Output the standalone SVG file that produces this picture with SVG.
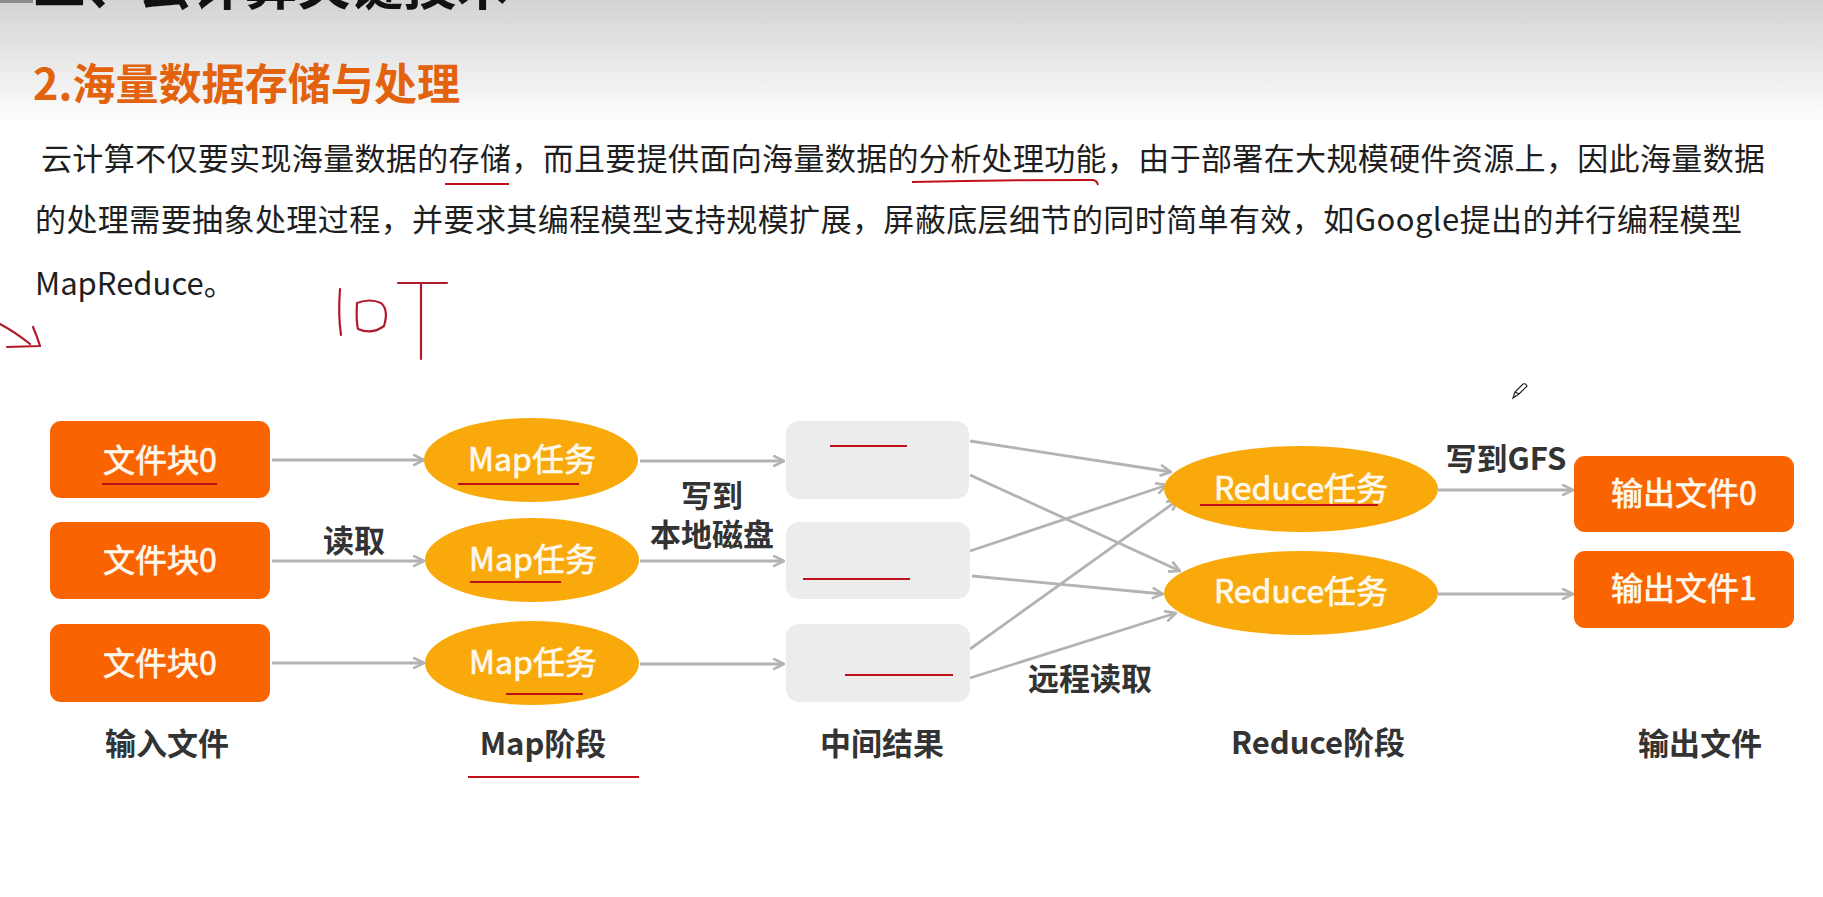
<svg xmlns="http://www.w3.org/2000/svg" width="1823" height="897" viewBox="0 0 1823 897">
<defs>
<linearGradient id="bg" x1="0" y1="0" x2="0" y2="1">
<stop offset="0" stop-color="#d3d3d3"/>
<stop offset="1" stop-color="#ffffff"/>
</linearGradient>
<marker id="arr" viewBox="0 0 12 12" refX="11" refY="6" markerWidth="13" markerHeight="13" markerUnits="userSpaceOnUse" orient="auto">
<path d="M1,1 L11,6 L1,11" fill="none" stroke="#b3b3b3" stroke-width="2.4"/>
</marker>
<style>
.cjk{font-family:"Noto Sans CJK SC","Liberation Sans",sans-serif}
.para{font-size:31px;fill:#1e1e1e}
.lbl{font-size:31px;fill:#333333;font-weight:600;text-anchor:middle}
.ntxt{font-size:32px;fill:#fff8ee;text-anchor:middle;stroke:#fff8ee;stroke-width:0.7}
.inbox{fill:#fa6400}
.ell{fill:#f9a90a}
.gbox{fill:#ececec}
.conn{stroke:#b3b3b3;stroke-width:2.8;fill:none;marker-end:url(#arr)}
.ul{stroke:#c0101a;stroke-width:2;fill:none}
.hand{stroke:#b01c2c;stroke-width:2.2;fill:none;stroke-linecap:round;stroke-linejoin:round}
</style>
</defs>
<rect x="0" y="0" width="1823" height="897" fill="#ffffff"/>
<rect x="0" y="0" width="1823" height="125" fill="url(#bg)"/>
<rect x="0" y="0" width="33" height="3" fill="#8a8a8a"/>
<text class="cjk" x="33" y="5" font-size="53" font-weight="bold" fill="#111111" textLength="476" lengthAdjust="spacingAndGlyphs">二、云计算关键技术</text>
<text class="cjk" x="33" y="100" font-size="43" font-weight="bold" fill="#e2620e" textLength="427" lengthAdjust="spacingAndGlyphs">2.海量数据存储与处理</text>
<text class="cjk para" x="41" y="170" textLength="1724" lengthAdjust="spacing">云计算不仅要实现海量数据的存储，而且要提供面向海量数据的分析处理功能，由于部署在大规模硬件资源上，因此海量数据</text>
<text class="cjk para" x="35" y="231" textLength="1707" lengthAdjust="spacing">的处理需要抽象处理过程，并要求其编程模型支持规模扩展，屏蔽底层细节的同时简单有效，如Google提出的并行编程模型</text>
<text class="cjk para" x="35" y="295">MapReduce。</text>
<g id="handwriting">
<path class="ul" d="M445,184 L509,184"/>
<path class="ul" d="M912,182 Q1000,180 1092,180 Q1097,180 1098,185"/>
<path class="hand" d="M340,289 Q338,315 341,335"/>
<path class="hand" d="M357,303 Q356,322 358,329 Q372,335 384,326 Q389,310 381,303 Q370,298 357,303"/>
<path class="hand" d="M398,283 L447,283 M421,283 L421,359"/>
<path class="hand" d="M0,324 Q15,332 30,344 M33,327 Q37,336 40,346 L7,347"/>
<path d="M1513,398 L1515,392 L1523,384 Q1526,383 1527,386 L1519,394 Z M1515,392 L1519,394" fill="none" stroke="#222" stroke-width="1.2"/>
</g>
<g id="connectors">
<path class="conn" d="M272,460 L424,460"/>
<path class="conn" d="M272,561 L424,561"/>
<path class="conn" d="M272,663 L424,663"/>
<path class="conn" d="M640,461 L784,461"/>
<path class="conn" d="M640,561 L784,561"/>
<path class="conn" d="M640,664 L784,664"/>
<path class="conn" d="M970,441 L1171,472"/>
<path class="conn" d="M970,475 L1180,571"/>
<path class="conn" d="M970,551 L1167,485"/>
<path class="conn" d="M972,576 L1163,594"/>
<path class="conn" d="M970,649 L1178,500"/>
<path class="conn" d="M970,678 L1176,613"/>
<path class="conn" d="M1438,490 L1573,490"/>
<path class="conn" d="M1438,594 L1573,594"/>
</g>
<g id="edge-labels">
<text class="cjk lbl" x="354" y="552">读取</text>
<text class="cjk lbl" x="712" y="507">写到</text>
<text class="cjk lbl" x="712" y="546">本地磁盘</text>
<text class="cjk lbl" x="1090" y="690">远程读取</text>
<text class="cjk lbl" x="1506" y="470">写到GFS</text>
</g>
<g id="input0"><rect class="inbox" x="50" y="421" width="220" height="77" rx="11"/><text class="cjk ntxt" x="160" y="472">文件块0</text><path class="ul" d="M102,484 L217,484"/></g>
<g id="input1"><rect class="inbox" x="50" y="522" width="220" height="77" rx="11"/><text class="cjk ntxt" x="160" y="572">文件块0</text></g>
<g id="input2"><rect class="inbox" x="50" y="624" width="220" height="78" rx="11"/><text class="cjk ntxt" x="160" y="675">文件块0</text></g>
<g id="map0"><ellipse class="ell" cx="531" cy="460" rx="107" ry="42"/><text class="cjk ntxt" x="532" y="471">Map任务</text><path class="ul" d="M458,484 L579,484"/></g>
<g id="map1"><ellipse class="ell" cx="532" cy="560" rx="107" ry="42"/><text class="cjk ntxt" x="533" y="571">Map任务</text><path class="ul" d="M470,582 L561,582"/></g>
<g id="map2"><ellipse class="ell" cx="532" cy="663" rx="107" ry="42"/><text class="cjk ntxt" x="533" y="674">Map任务</text><path class="ul" d="M506,694 L583,694"/></g>
<g id="mid0"><rect class="gbox" x="786" y="421" width="183" height="78" rx="13"/><path class="ul" d="M830,446 L907,446"/></g>
<g id="mid1"><rect class="gbox" x="786" y="522" width="184" height="77" rx="13"/><path class="ul" d="M803,579 L910,579"/></g>
<g id="mid2"><rect class="gbox" x="786" y="624" width="184" height="78" rx="13"/><path class="ul" d="M845,675 L953,675"/></g>
<g id="reduce0"><ellipse class="ell" cx="1301" cy="489" rx="137" ry="43"/><text class="cjk ntxt" x="1301" y="500">Reduce任务</text><path class="ul" d="M1200,505 L1378,505"/></g>
<g id="reduce1"><ellipse class="ell" cx="1301" cy="593" rx="137" ry="42"/><text class="cjk ntxt" x="1301" y="603">Reduce任务</text></g>
<g id="output0"><rect class="inbox" x="1574" y="456" width="220" height="76" rx="11"/><text class="cjk ntxt" x="1684" y="505">输出文件0</text></g>
<g id="output1"><rect class="inbox" x="1574" y="551" width="220" height="77" rx="11"/><text class="cjk ntxt" x="1684" y="600">输出文件1</text></g>
<g id="stage-labels">
<text class="cjk lbl" x="167" y="755">输入文件</text>
<text class="cjk lbl" x="543" y="755">Map阶段</text>
<path class="ul" d="M468,777 L639,777"/>
<text class="cjk lbl" x="882" y="755">中间结果</text>
<text class="cjk lbl" x="1318" y="754">Reduce阶段</text>
<text class="cjk lbl" x="1700" y="755">输出文件</text>
</g>
</svg>
